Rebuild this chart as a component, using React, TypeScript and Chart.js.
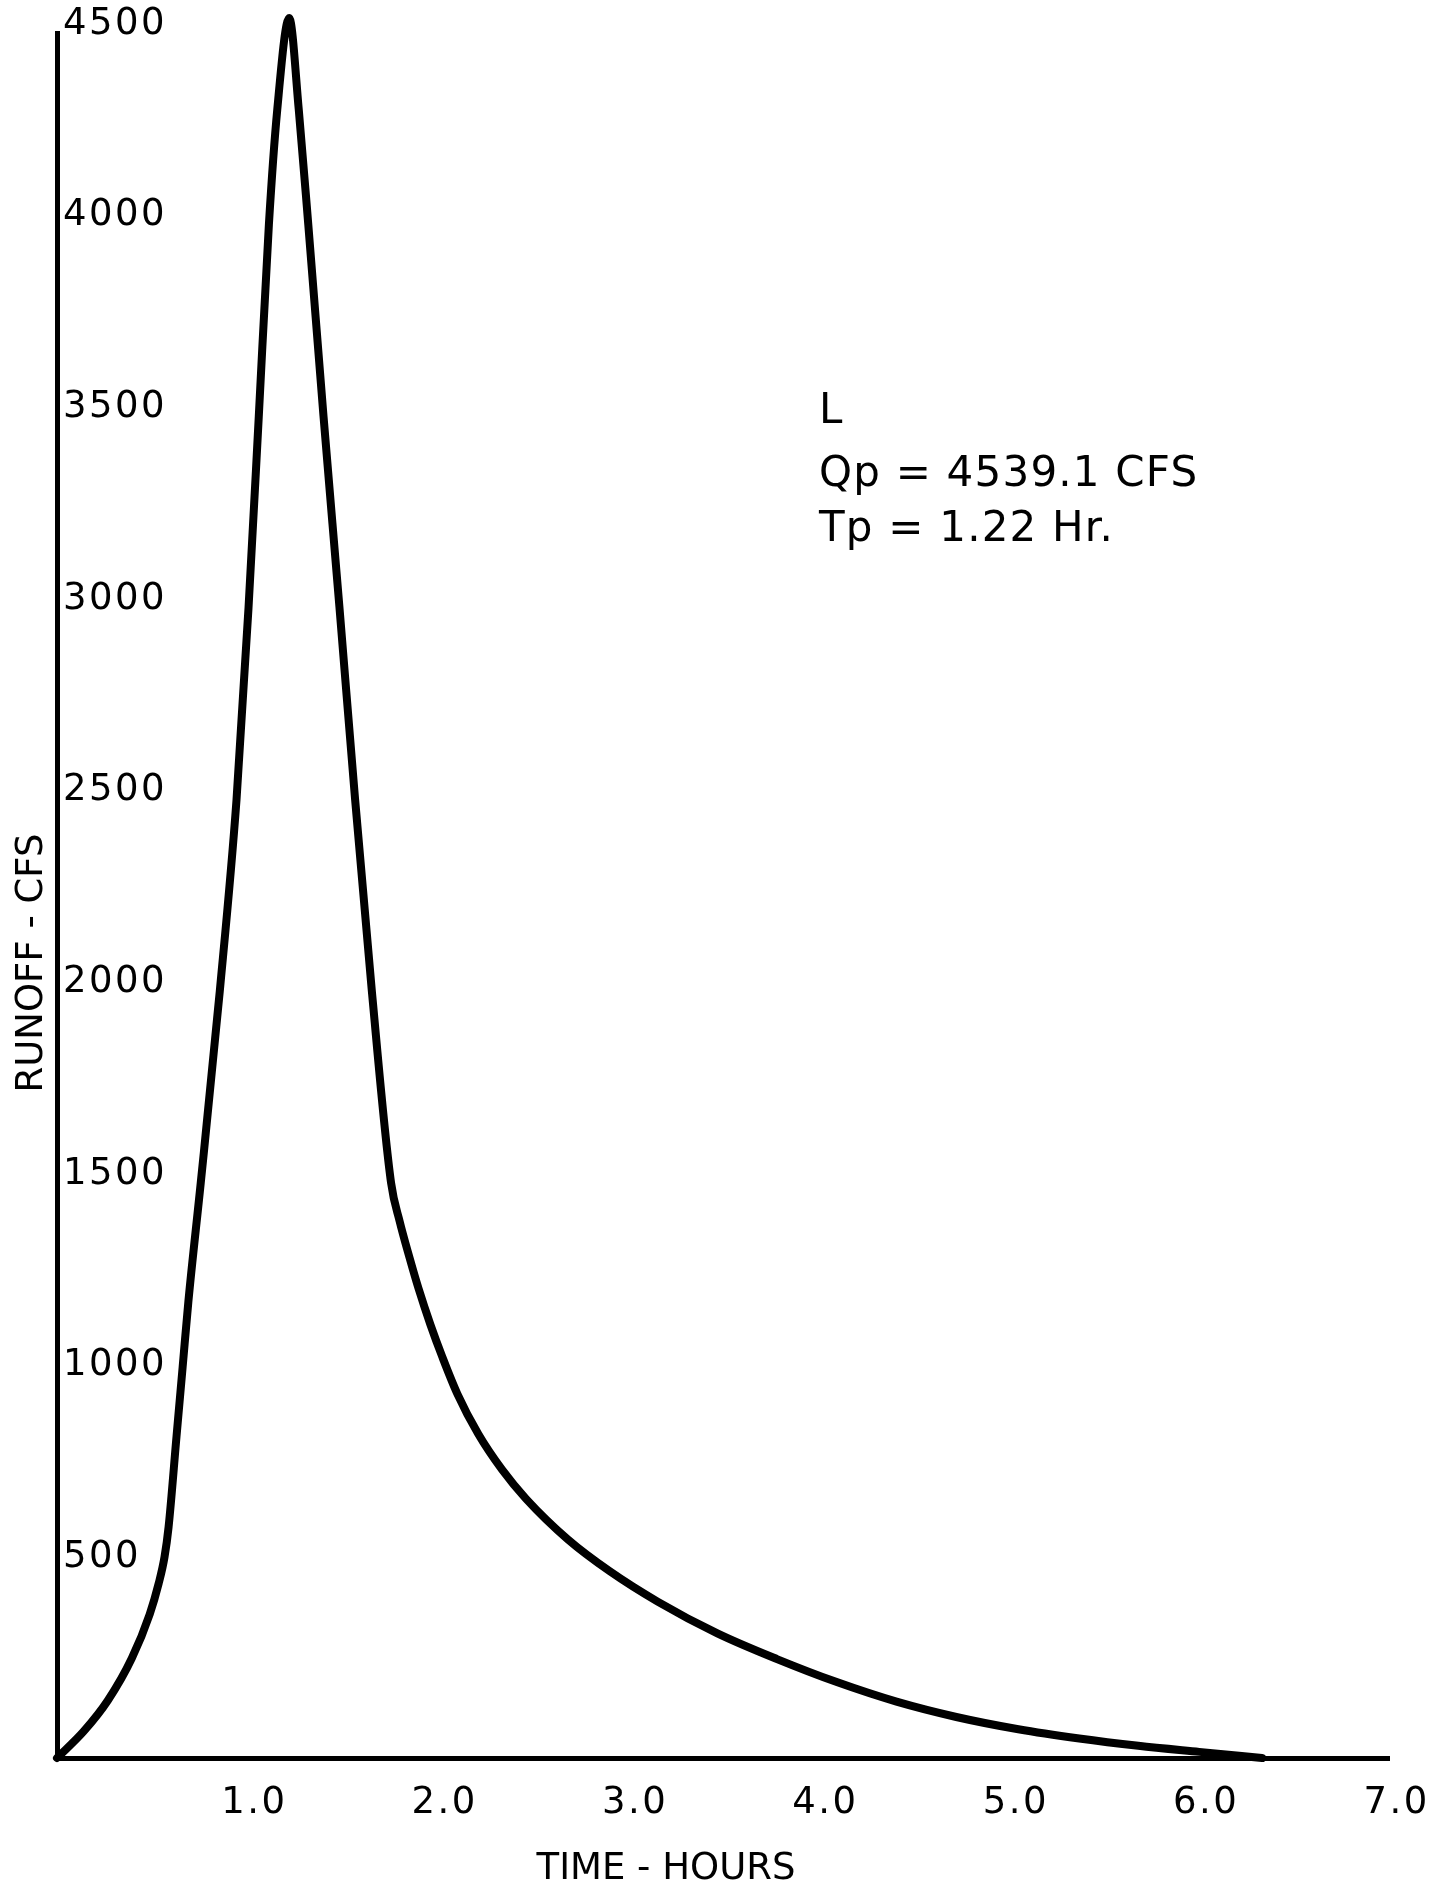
import React, { useEffect, useRef } from "react";
import { Chart, registerables } from "chart.js";

Chart.register(...registerables);

// Hydrograph "L" – runoff (cfs) against time (hours)
const TIME_HOURS = [
  0, 0.141, 0.267, 0.393, 0.487, 0.534, 0.565, 0.586, 0.628, 0.66, 0.69,
  0.755, 0.855, 0.943, 1.006, 1.06, 1.113, 1.157, 1.22, 1.27, 1.32, 1.4,
  1.484, 1.566, 1.654, 1.755, 1.8, 1.852, 1.899, 1.962, 2.025, 2.103, 2.213,
  2.338, 2.464, 2.684, 2.904, 3.155, 3.469, 3.782, 4.096, 4.41, 4.724, 5.05,
  5.37, 5.68, 6.0, 6.33,
];
const RUNOFF_CFS = [
  0, 70, 150, 260, 375, 455, 525, 602, 840, 1020, 1190,
  1500, 2000, 2500, 3000, 3500, 4000, 4300, 4539, 4300, 4000, 3500,
  3000, 2500, 2000, 1500, 1400, 1305, 1225, 1130, 1045, 950, 845,
  752, 676, 570, 487, 408, 325, 258, 198, 147, 107, 75,
  51, 32, 16, 0,
];

const X_TICKS = [1, 2, 3, 4, 5, 6, 7];
const Y_TICKS = [500, 1000, 1500, 2000, 2500, 3000, 3500, 4000, 4500];

const X_TITLE = "TIME - HOURS";
const Y_TITLE = "RUNOFF - CFS";
const NOTE_LINES = ["L", "Qp = 4539.1 CFS", "Tp = 1.22 Hr."];

const FONT = '"DejaVu Sans", "Noto Sans", sans-serif';

export default function App() {
  const canvasRef = useRef<HTMLCanvasElement>(null);

  useEffect(() => {
    const canvas = canvasRef.current;
    if (!canvas) return;

    const textPlugin = {
      id: "extraTexts",
      beforeDraw(chart: any) {
        const ctx = chart.ctx as any;
        ctx.letterSpacing = "2.5px";
      },
      afterDraw(chart: any) {
        const ctx = chart.ctx as any;
        ctx.save();
        ctx.letterSpacing = "0px";
        ctx.fillStyle = "#000";
        ctx.textBaseline = "alphabetic";

        // x-axis title
        ctx.font = `37px ${FONT}`;
        ctx.textAlign = "center";
        ctx.fillText(X_TITLE, 666, 1879);

        // y-axis title (rotated)
        ctx.save();
        ctx.translate(42, 963);
        ctx.rotate(-Math.PI / 2);
        ctx.textAlign = "center";
        ctx.fillText(Y_TITLE, 0, 0);
        ctx.restore();

        // annotation block
        ctx.font = `42px ${FONT}`;
        ctx.letterSpacing = "1.2px";
        ctx.textAlign = "left";
        const baselines = [423, 486, 541];
        NOTE_LINES.forEach((line, i) => {
          ctx.fillText(line, 819, baselines[i]);
        });
        ctx.restore();
      },
    };

    const chart = new Chart(canvas, {
      type: "line",
      data: {
        datasets: [
          {
            data: TIME_HOURS.map((t, i) => ({ x: t, y: RUNOFF_CFS[i] })),
            borderColor: "#000",
            borderWidth: 8,
            pointRadius: 0,
            fill: false,
            cubicInterpolationMode: "monotone",
            borderCapStyle: "round",
            borderJoinStyle: "round",
            clip: false as any,
          },
        ],
      },
      options: {
        animation: false,
        responsive: false,
        maintainAspectRatio: false,
        layout: { padding: { left: 57, right: 45, top: 33, bottom: 61 } },
        plugins: {
          legend: { display: false },
          tooltip: { enabled: false },
          title: { display: false },
        },
        scales: {
          x: {
            type: "linear",
            min: 0,
            max: 7,
            afterBuildTicks: (scale: any) => {
              scale.ticks = X_TICKS.map((v) => ({ value: v }));
            },
            afterFit: (scale: any) => {
              scale.height = 67;
            },
            grid: { color: "rgba(0,0,0,0)", drawOnChartArea: false, drawTicks: false },
            border: { display: true, color: "#000", width: 5 },
            ticks: {
              color: "#000",
              font: { family: FONT, size: 37 },
              padding: 23,
              labelOffset: 7,
              maxRotation: 0,
              autoSkip: false,
              callback: (v: any) => Number(v).toFixed(1),
            },
          },
          y: {
            type: "linear",
            min: 0,
            max: 4500,
            afterBuildTicks: (scale: any) => {
              scale.ticks = Y_TICKS.map((v) => ({ value: v }));
            },
            afterFit: (scale: any) => {
              scale.width = 0;
            },
            grid: { color: "rgba(0,0,0,0)", drawOnChartArea: false, drawTicks: false },
            border: { display: true, color: "#000", width: 5 },
            ticks: {
              color: "#000",
              font: { family: FONT, size: 37 },
              mirror: true,
              padding: 6,
              labelOffset: -9,
              autoSkip: false,
              callback: (v: any) => String(v),
            },
          },
        },
      },
      plugins: [textPlugin],
    });

    return () => chart.destroy();
  }, []);

  return (
    <div style={{ position: "absolute", left: 0, top: 0, width: 1442, height: 1886, background: "#fff" }}>
      <canvas ref={canvasRef} width={1442} height={1886} style={{ display: "block" }} />
    </div>
  );
}
